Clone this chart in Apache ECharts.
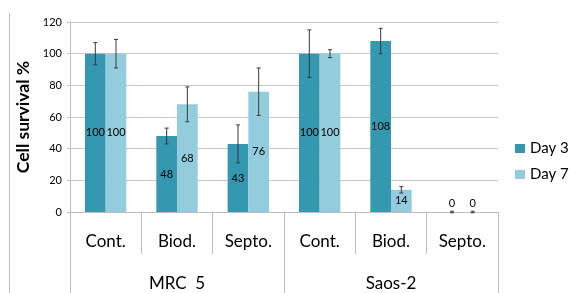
<!DOCTYPE html>
<html>
<head>
<meta charset="utf-8">
<script src="https://cdn.jsdelivr.net/npm/echarts@6/dist/echarts.min.js"></script>
<style>
  html, body { margin: 0; padding: 0; background: #fff; }
  #chart { width: 570px; height: 293px; }
</style>
</head>
<body>
<div id="chart"></div>
<script>
// chart data
const categories = ['Cont.', 'Biod.', 'Septo.', 'Cont.', 'Biod.', 'Septo.'];
const groups = ['MRC  5', 'Saos-2'];
const day3 = [100, 48, 43, 100, 108, 0];
const day7 = [100, 68, 76, 100, 14, 0];
const day3Err = [7, 5, 12, 15, 8, 0.5];
const day7Err = [9, 11, 15, 2.5, 2, 0.5];
const yTicks = [0, 20, 40, 60, 80, 100, 120];

const font = 'Lato';
const gap = 0.42; // barCategoryGap

function barData(values) {
    return values.map(v => {
        if (v === 0) {
            return { value: v, label: { position: 'top', distance: 3 } };
        }
        return v;
    });
}

function errorData(values, errs) {
    return values.map((v, i) => [i, v - errs[i], v + errs[i]]);
}

// draws one error bar, shifted onto its own bar inside the category
function errorRenderer(side) {
    return function (params, api) {
        const band = api.size([1, 0])[0];
        const barW = band * (1 - gap) / 2;
        const dx = side * barW / 2;
        const lo = api.coord([api.value(0), api.value(1)]);
        const hi = api.coord([api.value(0), api.value(2)]);
        const x = lo[0] + dx;
        const cap = 2;
        const style = { stroke: '#3a3a3a', lineWidth: 1 };
        return {
            type: 'group',
            children: [
                { type: 'line', shape: { x1: x, y1: hi[1], x2: x, y2: lo[1] }, style: style },
                { type: 'line', shape: { x1: x - cap, y1: hi[1], x2: x + cap, y2: hi[1] }, style: style },
                { type: 'line', shape: { x1: x - cap, y1: lo[1], x2: x + cap, y2: lo[1] }, style: style }
            ]
        };
    };
}

const chart = echarts.init(document.getElementById('chart'));

const option = {
    animation: false,
    textStyle: { fontFamily: font },
    grid: { left: 70, right: 72, top: 22, bottom: 81 },
    legend: {
        orient: 'vertical',
        left: 510,
        top: 135,
        itemWidth: 10,
        itemHeight: 9,
        itemGap: 9,
        icon: 'rect',
        textStyle: { fontSize: 15, lineHeight: 17, color: '#000', fontFamily: font },
        data: ['Day 3', 'Day 7']
    },
    xAxis: [
        {
            type: 'category',
            data: categories,
            position: 'bottom',
            axisLine: { lineStyle: { color: '#bfbfbf' } },
            axisTick: { show: true, interval: 0, length: 42, lineStyle: { color: '#bfbfbf' } },
            axisLabel: { interval: 0, margin: 21, fontSize: 17, color: '#000' }
        },
        {
            type: 'category',
            data: groups,
            position: 'bottom',
            axisLine: { show: false },
            axisTick: { show: true, interval: 0, length: 81, lineStyle: { color: '#bfbfbf' } },
            axisLabel: { interval: 0, margin: 63, fontSize: 17, color: '#000' }
        }
    ],
    yAxis: {
        type: 'value',
        min: yTicks[0],
        max: yTicks[yTicks.length - 1],
        interval: 20,
        name: 'Cell survival %',
        nameLocation: 'middle',
        nameGap: 35,
        nameTextStyle: { fontSize: 17.5, fontWeight: 'bold', color: '#000' },
        axisLine: { show: true, lineStyle: { color: '#bfbfbf' } },
        axisTick: { show: true, length: 3, lineStyle: { color: '#bfbfbf' } },
        axisLabel: { fontSize: 11, color: '#000', margin: 8 },
        splitLine: { lineStyle: { color: '#c8c8c8' } }
    },
    series: [
        {
            name: 'Day 3',
            type: 'bar',
            barGap: '0%',
            barCategoryGap: (gap * 100) + '%',
            itemStyle: { color: '#3598b1' },
            label: { show: true, position: 'inside', color: '#000', fontSize: 11 },
            data: barData(day3)
        },
        {
            name: 'Day 7',
            type: 'bar',
            itemStyle: { color: '#93cddd' },
            label: { show: true, position: 'inside', color: '#000', fontSize: 11 },
            data: barData(day7)
        },
        {
            type: 'custom',
            renderItem: errorRenderer(-1),
            data: errorData(day3, day3Err),
            z: 5
        },
        {
            type: 'custom',
            renderItem: errorRenderer(1),
            data: errorData(day7, day7Err),
            z: 5
        }
    ],
    graphic: [
        {
            type: 'line',
            shape: { x1: 9.5, y1: 13, x2: 9.5, y2: 293 },
            style: { stroke: '#bfbfbf', lineWidth: 1 }
        }
    ]
};

chart.setOption(option);
</script>
</body>
</html>
